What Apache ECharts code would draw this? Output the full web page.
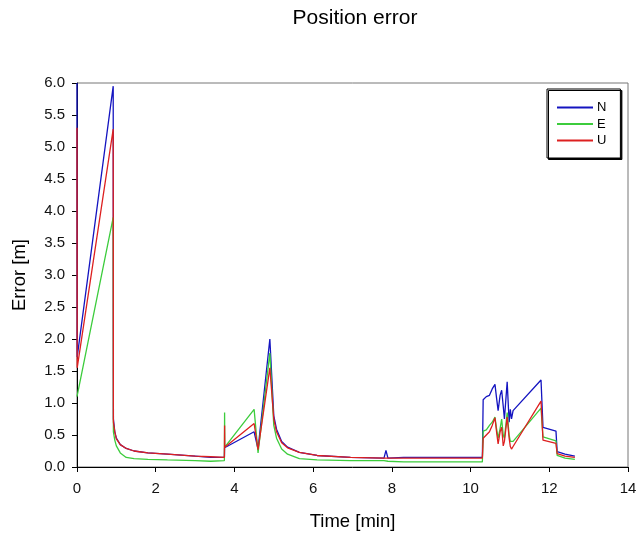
<!DOCTYPE html>
<html>
<head>
<meta charset="utf-8">
<script src="https://cdn.jsdelivr.net/npm/echarts@6/dist/echarts.min.js"></script>
<style>html,body{margin:0;padding:0;background:#fff}#c{width:641px;height:536px}</style>
</head>
<body>
<div id="c"></div>
<script>
var times = [0.000,0.005,0.920,0.925,0.960,1.00,1.10,1.25,1.45,1.80,2.30,3.00,3.40,3.745,3.750,3.755,4.50,4.60,4.90,5.00,5.07,5.20,5.35,5.65,6.10,6.95,7.80,7.85,7.90,8.30,9.30,10.30,10.32,10.40,10.48,10.55,10.62,10.66,10.70,10.75,10.79,10.83,10.86,10.93,10.98,11.01,11.04,11.08,11.79,11.84,12.17,12.20,12.40,12.65];
var errN = [6.00,1.72,5.95,0.75,0.55,0.45,0.35,0.29,0.25,0.22,0.20,0.17,0.15,0.15,0.30,0.30,0.55,0.28,2.00,0.80,0.59,0.40,0.31,0.23,0.18,0.15,0.14,0.26,0.14,0.15,0.15,0.15,1.05,1.10,1.12,1.22,1.29,1.08,0.88,1.12,1.20,0.95,0.75,1.33,0.70,0.90,0.75,0.88,1.36,0.62,0.56,0.24,0.20,0.17];
var errE = [1.10,1.10,3.90,0.55,0.42,0.33,0.22,0.15,0.13,0.12,0.11,0.10,0.09,0.10,0.85,0.31,0.90,0.22,1.78,0.65,0.45,0.28,0.20,0.13,0.11,0.10,0.10,0.13,0.09,0.08,0.08,0.08,0.56,0.58,0.65,0.70,0.78,0.60,0.45,0.60,0.75,0.50,0.45,0.85,0.50,0.40,0.38,0.40,0.92,0.47,0.41,0.18,0.14,0.12];
var errU = [5.30,1.55,5.28,0.70,0.55,0.44,0.35,0.29,0.25,0.22,0.20,0.17,0.16,0.15,0.65,0.31,0.68,0.27,1.55,0.75,0.55,0.38,0.30,0.23,0.18,0.15,0.14,0.15,0.14,0.14,0.14,0.14,0.45,0.50,0.55,0.65,0.77,0.55,0.36,0.55,0.62,0.33,0.40,0.78,0.45,0.32,0.28,0.32,1.03,0.42,0.37,0.21,0.17,0.15];
var seriesNames = ['N','E','U'];
var xTicks = {min:0, max:14, interval:2};
var yTicks = {min:0, max:6, interval:0.5};

function pairs(v){ return times.map(function(t,i){ return [t, v[i]]; }); }
var font = 'Liberation Sans, Arial, sans-serif';
var chart = echarts.init(document.getElementById('c'));
var colors = ['#1414c0','#3ccc3c','#dd2020'];
chart.setOption({
  animation:false,
  textStyle:{fontFamily:font},
  title:{text:'Position error', left:350, top:3, textAlign:'center',
    textStyle:{fontFamily:font, fontSize:21, fontWeight:'normal', color:'#000'}},
  grid:{left:77, right:13, top:83, bottom:68, show:true, borderColor:'#777', borderWidth:1},
  legend:{orient:'vertical', left:547, top:89, width:60, data:seriesNames,
    backgroundColor:'#fff', borderColor:'#000', borderWidth:1,
    shadowColor:'#000', shadowOffsetX:1.5, shadowOffsetY:1.5, shadowBlur:0,
    padding:[12,14,11,9], itemWidth:36, itemHeight:14, itemGap:3.5,
    itemStyle:{opacity:0, borderWidth:0},
    textStyle:{fontFamily:font, fontSize:13, color:'#000', padding:[0,0,0,-1]}},
  xAxis:{type:'value', min:xTicks.min, max:xTicks.max, interval:xTicks.interval,
    name:'Time [min]', nameLocation:'middle', nameGap:45,
    nameTextStyle:{fontFamily:font, fontSize:18.5, color:'#000'},
    axisLine:{show:true, lineStyle:{color:'#000', width:1}},
    axisTick:{show:true, inside:false, length:5, lineStyle:{color:'#000'}},
    axisLabel:{fontFamily:font, fontSize:15, color:'#111', margin:14},
    splitLine:{show:false}},
  yAxis:{type:'value', min:yTicks.min, max:yTicks.max, interval:yTicks.interval,
    name:'Error [m]', nameLocation:'middle', nameGap:48,
    nameTextStyle:{fontFamily:font, fontSize:18.5, color:'#000'},
    axisLine:{show:true, lineStyle:{color:'#000', width:1}},
    axisTick:{show:true, inside:false, length:5, lineStyle:{color:'#000'}},
    axisLabel:{fontFamily:font, fontSize:15, color:'#111', margin:12,
      formatter:function(v){return v.toFixed(1);}},
    splitLine:{show:false}},
  series:[errN, errE, errU].map(function(v,i){
    return {name:seriesNames[i], type:'line', data:pairs(v), symbol:'none', showSymbol:false,
      lineStyle:{color:colors[i], width:1.3}, itemStyle:{color:colors[i]}};
  })
});
</script>
</body>
</html>
